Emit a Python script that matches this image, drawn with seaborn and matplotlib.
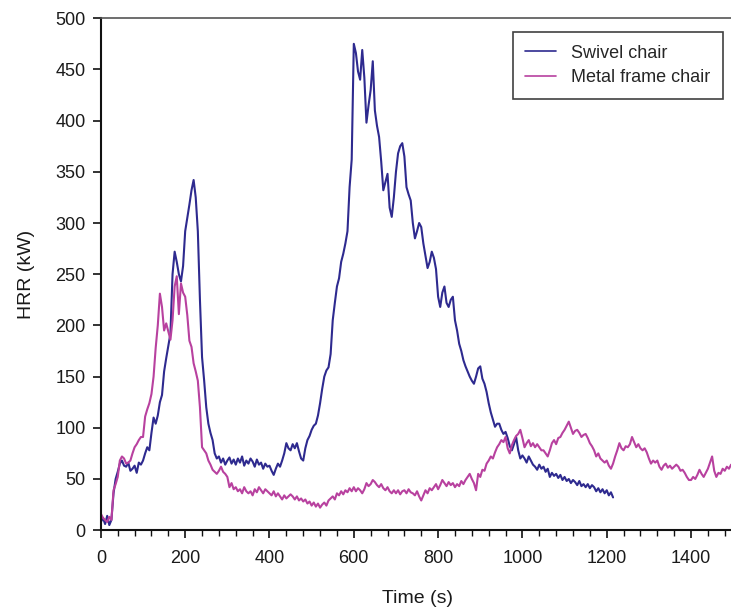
import numpy as np
import pandas as pd
import matplotlib
matplotlib.use("Agg")
import matplotlib.pyplot as plt
from matplotlib.ticker import MultipleLocator
import seaborn as sns

# Heat release rate records, sampled every 5 s
swivel_start, swivel_step = 0, 5
swivel_hrr = [
    8, 12, 6, 14, 5, 10, 36, 50, 57, 65,
    68, 63, 62, 66, 58, 60, 63, 56, 66, 64,
    68, 75, 81, 78, 95, 110, 104, 112, 125, 132,
    155, 168, 180, 192, 250, 272, 262, 250, 243, 258,
    292, 305, 318, 332, 342, 325, 292, 225, 169, 146,
    120, 104, 95, 88, 75, 70, 72, 66, 70, 64,
    68, 71, 65, 69, 64, 70, 66, 72, 63, 68,
    65, 70, 67, 62, 69, 64, 66, 60, 65, 62,
    63, 58, 54, 60, 65, 62, 68, 75, 85, 80,
    78, 84, 80, 85, 77, 70, 68, 80, 88, 92,
    98, 102, 104, 112, 124, 138, 150, 156, 159, 172,
    205, 222, 238, 246, 262, 270, 280, 292, 335, 362,
    475, 466, 448, 440, 469, 442, 398, 415, 430, 458,
    410, 395, 384, 360, 332, 340, 348, 315, 306, 325,
    350, 368, 375, 378, 365, 335, 328, 322, 300, 285,
    292, 300, 296, 280, 268, 256, 262, 272, 266, 255,
    228, 218, 232, 238, 222, 218, 225, 228, 205, 195,
    182, 175, 166, 160, 155, 150, 146, 143, 150, 158,
    160, 148, 143, 135, 124, 115, 108, 101, 104, 104,
    98, 94, 96, 90, 82, 78, 84, 91, 78, 70,
    73, 70, 66, 72, 68, 64, 62, 59, 64, 60,
    62, 57, 60, 52, 56, 53, 55, 51, 54, 49,
    52, 48, 50, 46, 49, 47, 44, 48, 43, 45,
    42, 45, 41, 44, 42, 38, 41, 37, 40, 36,
    39, 34, 37, 32,
]

metal_start, metal_step = 0, 5
metal_hrr = [
    16, 12, 10, 8, 13, 10, 39, 45, 52, 68,
    72, 70, 65, 66, 68, 75, 81, 84, 88, 91,
    91, 111, 118, 124, 133, 150, 178, 200, 231, 218,
    195, 202, 194, 186, 205, 238, 248, 211, 241, 232,
    228, 210, 185, 179, 163, 155, 146, 120, 81, 78,
    75, 68, 64, 59, 57, 55, 58, 62, 57, 55,
    52, 42, 46, 40, 42, 38, 40, 36, 42, 38,
    36, 38, 34, 40, 37, 42, 39, 36, 40, 38,
    36, 34, 38, 33, 36, 33, 30, 34, 31, 33,
    35, 33, 30, 33, 29, 31, 28, 30, 26, 28,
    24, 27, 23, 26, 22, 25, 27, 24, 29, 31,
    33, 30, 36, 34, 38, 35, 39, 37, 41, 38,
    42, 38, 41, 39, 36, 40, 46, 43, 45, 49,
    47, 44, 42, 45, 41, 39, 42, 38, 36, 39,
    36, 39, 35, 38, 39, 36, 40, 37, 36, 34,
    38, 33, 29, 34, 39, 36, 41, 39, 42, 45,
    40, 44, 49, 46, 43, 47, 44, 46, 42, 45,
    43, 48, 45, 49, 52, 55, 50, 46, 39, 55,
    52, 59, 58, 65, 68, 72, 70, 76, 81, 84,
    88, 86, 91, 80, 75, 83, 88, 92, 94, 98,
    90, 81, 85, 88, 82, 85, 81, 84, 81, 78,
    78, 75, 72, 78, 85, 88, 84, 90, 91, 95,
    98, 102, 106, 100, 94, 97, 98, 95, 91, 93,
    94, 90, 85, 82, 78, 72, 75, 70, 68, 66,
    68, 63, 60, 65, 72, 78, 85, 80, 78, 82,
    81, 84, 91, 86, 81, 84, 80, 78, 80, 76,
    70, 65, 68, 66, 68, 62, 59, 63, 65, 61,
    63, 60, 62, 64, 62, 58, 59, 56, 52, 49,
    49, 52, 50, 54, 59, 55, 52, 56, 60, 66,
    72, 58, 52, 56, 55, 60, 58, 62, 60, 64,
    62,
]

series_names = ["Swivel chair", "Metal frame chair"]
series_colors = ["#2e2a8f", "#b8419f"]
x_ticks = [0, 200, 400, 600, 800, 1000, 1200, 1400]
y_ticks = [0, 50, 100, 150, 200, 250, 300, 350, 400, 450, 500]

swivel_t = swivel_start + swivel_step * np.arange(len(swivel_hrr))
metal_t = metal_start + metal_step * np.arange(len(metal_hrr))
df = pd.concat([
    pd.DataFrame({"Time (s)": swivel_t, "HRR (kW)": swivel_hrr, "Item": series_names[0]}),
    pd.DataFrame({"Time (s)": metal_t, "HRR (kW)": metal_hrr, "Item": series_names[1]}),
], ignore_index=True)

sns.set_style("white")
plt.rcParams["font.family"] = ["Liberation Sans", "DejaVu Sans"]

fig = plt.figure(figsize=(7.31, 6.08), dpi=100)
ax = fig.add_axes([0.138, 0.128, 0.865, 0.842])

sns.lineplot(data=df, x="Time (s)", y="HRR (kW)", hue="Item",
             hue_order=series_names, palette=series_colors,
             linewidth=1.5, ax=ax, estimator=None, sort=False)

ax.set_xlim(0, 1500)
ax.set_ylim(0, 500)
ax.set_xticks(x_ticks)
ax.set_yticks(y_ticks)
ax.xaxis.set_minor_locator(MultipleLocator(40))
ax.tick_params(axis="both", which="major", direction="out", length=6, width=1.2,
               labelsize=13, color="#111111", labelcolor="#1a1a1a", pad=5)
ax.tick_params(axis="x", which="major", pad=8)
ax.tick_params(axis="x", which="minor", direction="out", length=4, width=1.0,
               color="#111111", bottom=True)
ax.tick_params(axis="x", which="both", bottom=True)
ax.tick_params(axis="y", which="both", left=True)

ax.set_xlabel("Time (s)", fontsize=14, color="#1a1a1a", labelpad=17)
ax.set_ylabel("HRR (kW)", fontsize=14, color="#1a1a1a", labelpad=15)

for side in ["left", "bottom"]:
    ax.spines[side].set_color("#111111")
    ax.spines[side].set_linewidth(1.5)
ax.spines["top"].set_color("#555555")
ax.spines["top"].set_linewidth(1.2)
ax.spines["right"].set_visible(False)

leg = ax.legend(loc="upper right", bbox_to_anchor=(0.984, 0.973), fontsize=13,
                frameon=True, fancybox=False, edgecolor="#111111",
                handlelength=1.7, handletextpad=0.85, borderpad=0.7,
                borderaxespad=0.0, labelspacing=0.4, title=None)
leg.get_frame().set_linewidth(1.2)
for line in leg.get_lines():
    line.set_linewidth(1.2)

fig.savefig("out.png", dpi=100, facecolor="white")
